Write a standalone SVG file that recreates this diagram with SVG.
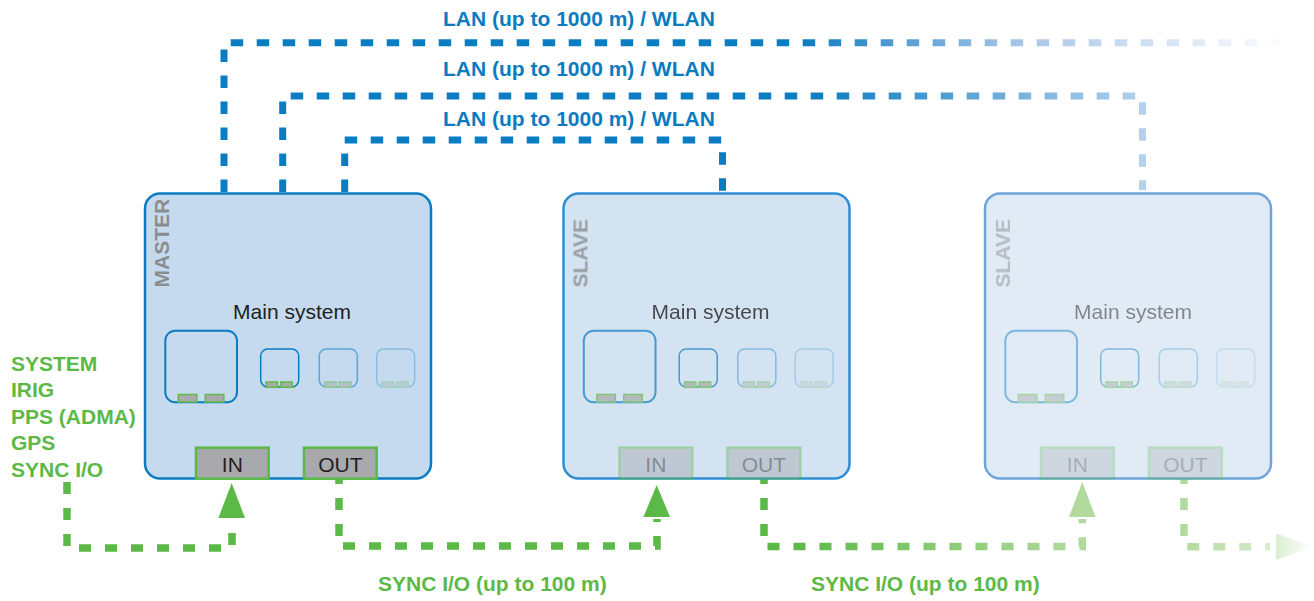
<svg xmlns="http://www.w3.org/2000/svg" width="1314" height="601" viewBox="0 0 1314 601">
<style>
.lan{font-family:"Liberation Sans",Arial,sans-serif;font-weight:bold;font-size:21px;fill:#0b7bc1}
.grn{font-family:"Liberation Sans",Arial,sans-serif;font-weight:bold;font-size:21px;fill:#5cb947}
.role{font-family:"Liberation Sans",Arial,sans-serif;font-weight:bold;font-size:21px;fill:#8a8c8e}
.main{font-family:"Liberation Sans",Arial,sans-serif;font-size:21px;fill:#231f20;text-anchor:middle}
.io{font-family:"Liberation Sans",Arial,sans-serif;font-size:21px;fill:#231f20;text-anchor:middle}
.sub{fill:none;stroke:#0a7cc1}
.tab{fill:#a7a9ac;stroke:#62bb46;stroke-width:1.5}
.iobox{fill:#a7a9ac;stroke:#5cb947;stroke-width:2.5}
.bl{fill:none;stroke-width:7;stroke-dasharray:12.5 13.5}
.gl{fill:none;stroke-width:7.5;stroke-dasharray:12 14}
</style>
<defs>
<linearGradient id="g1" gradientUnits="userSpaceOnUse" x1="800" y1="0" x2="1292" y2="0">
<stop offset="0" stop-color="#0a7cc1"/><stop offset="0.42" stop-color="#a2c2e5"/><stop offset="1" stop-color="#ffffff"/>
</linearGradient>
<linearGradient id="g2" gradientUnits="userSpaceOnUse" x1="812" y1="0" x2="1142" y2="0">
<stop offset="0" stop-color="#0a7cc1"/><stop offset="1" stop-color="#b5d0ea"/>
</linearGradient>
<linearGradient id="g3" gradientUnits="userSpaceOnUse" x1="790" y1="0" x2="1082" y2="0">
<stop offset="0" stop-color="#5cb947"/><stop offset="1" stop-color="#b2da9f"/>
</linearGradient>
<linearGradient id="g4" gradientUnits="userSpaceOnUse" x1="1184" y1="0" x2="1313" y2="0">
<stop offset="0" stop-color="#b2da9f"/><stop offset="0.7" stop-color="#d9edd0"/><stop offset="1" stop-color="#ffffff"/>
</linearGradient>
<g id="inner">
<rect class="sub" x="20.3" y="330.7" width="71.7" height="71.6" rx="10" stroke-width="2"/>
<rect class="tab" x="33.3" y="394.5" width="18.5" height="7.5"/>
<rect class="tab" x="60.3" y="394.5" width="18.5" height="7.5"/>
<g>
<rect class="sub" x="115.7" y="349" width="38" height="38" rx="7" stroke-width="1.5"/>
<rect class="tab" x="121" y="382" width="11.5" height="5.3"/>
<rect class="tab" x="135.7" y="382" width="11.5" height="5.3"/>
</g>
<g opacity="0.55">
<rect class="sub" x="174.3" y="349" width="38" height="38" rx="7" stroke-width="1.5"/>
<rect class="tab" x="179.6" y="382" width="11.5" height="5.3"/>
<rect class="tab" x="194.3" y="382" width="11.5" height="5.3"/>
</g>
<g opacity="0.3">
<rect class="sub" x="231.7" y="349" width="38" height="38" rx="7" stroke-width="1.5"/>
<rect class="tab" x="237" y="382" width="11.5" height="5.3"/>
<rect class="tab" x="251.7" y="382" width="11.5" height="5.3"/>
</g>
</g>
</defs>

<g id="connectors">
<path class="bl" stroke="#0a7cc1" d="M344.7,192 V140 H722.5 V192"/>
<path class="bl" stroke="url(#g2)" d="M282.7,192 V96 H1142.5 V190"/>
<path class="bl" stroke="url(#g1)" d="M224,192 V42.7 H1300"/>
<path class="gl" stroke="#5cb947" d="M67,482 V548 H232 V520"/>
<polygon fill="#5cb947" points="231.7,483 245,518 218.4,518"/>
<path class="gl" stroke="#5cb947" stroke-dashoffset="7" d="M339,479 V546 H657 V519"/>
<polygon fill="#5cb947" points="656.7,485 670,517 643.4,517"/>
<path class="gl" stroke="url(#g3)" stroke-dashoffset="7" d="M764,479 V546.5 H1082.3 V519"/>
<polygon fill="#b2da9f" points="1082.3,482 1095.6,517 1069,517"/>
<path class="gl" stroke="url(#g4)" stroke-dashoffset="7" d="M1184,479 V546.7 H1270"/>
<polygon fill="url(#g4)" points="1276,533.3 1313,546.7 1276,560"/>
</g>

<g id="lan-labels">
<text class="lan" x="443" y="26">LAN (up to 1000 m) / WLAN</text>
<text class="lan" x="443" y="76">LAN (up to 1000 m) / WLAN</text>
<text class="lan" x="443" y="126">LAN (up to 1000 m) / WLAN</text>
</g>

<g id="master" transform="translate(145,0)">
<rect x="0" y="193.5" width="286" height="285" rx="15" fill="#c5daee" stroke="#0a7cc1" stroke-width="2.5"/>
<text class="role" transform="translate(24.3,287.5) rotate(-90)">MASTER</text>
<text class="main" x="147" y="319">Main system</text>
<use href="#inner"/>
<rect class="iobox" x="51" y="447.7" width="72.7" height="31"/>
<text class="io" x="87.3" y="471.7">IN</text>
<rect class="iobox" x="159" y="447.7" width="72.7" height="31"/>
<text class="io" x="195.3" y="471.7">OUT</text>
</g>

<g id="slave1" transform="translate(563.5,0)">
<rect x="0" y="193.5" width="286" height="285" rx="15" fill="#d3e3f2" stroke="#2f8ed3" stroke-width="2.5"/>
<g opacity="0.8">
<text class="role" transform="translate(24,287.5) rotate(-90)">SLAVE</text>
<text class="main" x="147" y="319">Main system</text>
</g>
<use href="#inner" opacity="0.7"/>
<g opacity="0.45">
<rect class="iobox" x="56" y="447.7" width="72.7" height="31"/>
<text class="io" x="92.3" y="471.7">IN</text>
<rect class="iobox" x="164" y="447.7" width="72.7" height="31"/>
<text class="io" x="200.3" y="471.7">OUT</text>
</g>
</g>

<g id="slave2" transform="translate(985,0)">
<rect x="0" y="193.5" width="286" height="285" rx="15" fill="#e0ebf6" stroke="#6ea6dc" stroke-width="2.5"/>
<g opacity="0.5">
<text class="role" transform="translate(25,287.5) rotate(-90)">SLAVE</text>
<text class="main" x="148" y="319">Main system</text>
</g>
<use href="#inner" opacity="0.45"/>
<g opacity="0.3">
<rect class="iobox" x="56" y="447.7" width="72.7" height="31"/>
<text class="io" x="92.3" y="471.7">IN</text>
<rect class="iobox" x="164" y="447.7" width="72.7" height="31"/>
<text class="io" x="200.3" y="471.7">OUT</text>
</g>
</g>

<g id="sources">
<text class="grn" x="11" y="370.7">SYSTEM</text>
<text class="grn" x="11" y="397.3">IRIG</text>
<text class="grn" x="11" y="423.5">PPS (ADMA)</text>
<text class="grn" x="11" y="450">GPS</text>
<text class="grn" x="11" y="476.7">SYNC I/O</text>
</g>

<g id="sync-labels">
<text class="grn" x="378" y="590.7">SYNC I/O (up to 100 m)</text>
<text class="grn" x="811" y="590.7">SYNC I/O (up to 100 m)</text>
</g>
</svg>
